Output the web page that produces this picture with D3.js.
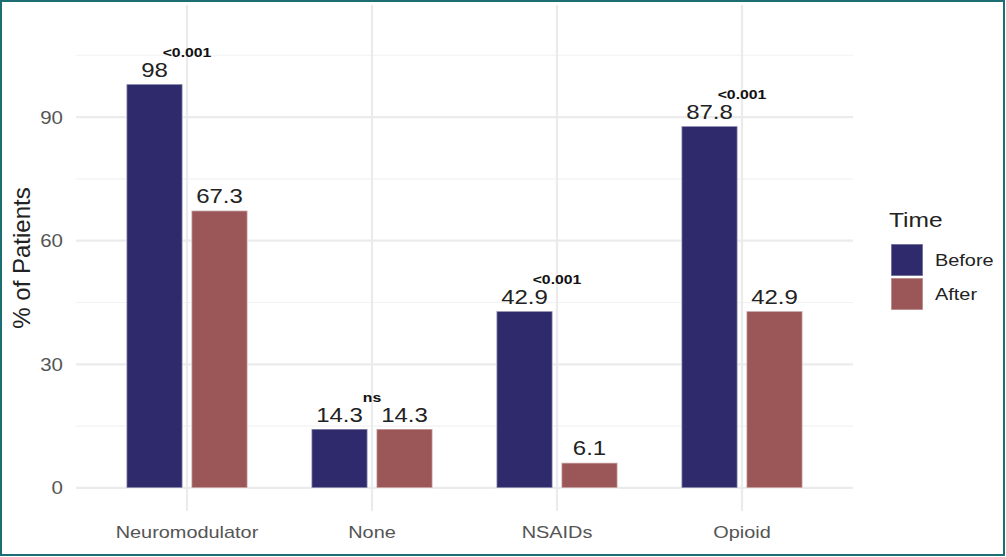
<!DOCTYPE html>
<html><head><meta charset="utf-8">
<script src="https://cdn.jsdelivr.net/npm/d3@7"></script>
<style>body{margin:0;background:#fff}svg{display:block}text{font-family:"Liberation Sans",Arial,sans-serif}</style>
</head><body>
<svg id="c" width="1006" height="557"></svg>
<script>
const categories = ["Neuromodulator", "None", "NSAIDs", "Opioid"];
const times = ["Before", "After"];
const before = [98, 14.3, 42.9, 87.8];
const after = [67.3, 14.3, 6.1, 42.9];
const pLabels = ["<0.001", "ns", "<0.001", "<0.001"];
const yTicks = [0, 30, 60, 90];
const yMinor = [15, 45, 75, 105];
const colors = {Before: "#2e2a6b", After: "#9b5757"};

const S = 1.17; // horizontal text stretch
const svg = d3.select("#c");
const W = 1006, H = 557;
const panel = {l: 76, r: 853, t: 5, b: 511};

const x = d3.scalePoint().domain(categories).range([panel.l, panel.r]).padding(0.6);
const xs = d3.scaleBand().domain(times).range([-60.5, 60.5]).paddingInner(0.138).paddingOuter(0);
const y = d3.scaleLinear().domain([-5.6, 117.2]).range([panel.b, panel.t]);

function stext(g, tx, ty, str, opts) {
  const t = g.append("text").attr("transform", `translate(${tx},${ty}) scale(${opts.sx || S},1)`)
    .attr("text-anchor", opts.anchor || "middle")
    .attr("font-size", opts.size).attr("fill", opts.fill || "#222")
    .text(str);
  if (opts.bold) t.attr("font-weight", "bold");
  return t;
}

const grid = svg.append("g");
grid.selectAll("line.mi").data(yMinor).join("line")
  .attr("x1", panel.l).attr("x2", panel.r).attr("y1", d => y(d)).attr("y2", d => y(d))
  .attr("stroke", "#f2f2f2").attr("stroke-width", 1.2);
grid.selectAll("line.ma").data(yTicks).join("line")
  .attr("x1", panel.l).attr("x2", panel.r).attr("y1", d => y(d)).attr("y2", d => y(d))
  .attr("stroke", "#ebebeb").attr("stroke-width", 2.2);
grid.selectAll("line.v").data(categories).join("line")
  .attr("x1", d => x(d)).attr("x2", d => x(d)).attr("y1", panel.t).attr("y2", panel.b)
  .attr("stroke", "#ebebeb").attr("stroke-width", 2.2);

const rows = categories.map((c, i) => ({c, vals: [{t: "Before", v: before[i]}, {t: "After", v: after[i]}], p: pLabels[i]}));
const bars = svg.append("g");
rows.forEach(r => {
  r.vals.forEach(d => {
    bars.append("rect")
      .attr("x", x(r.c) + xs(d.t)).attr("width", xs.bandwidth())
      .attr("y", y(d.v)).attr("height", y(0) - y(d.v))
      .attr("fill", colors[d.t]).attr("stroke", "#ffffff").attr("stroke-opacity", 0.45).attr("stroke-width", 1.6);
    stext(bars, x(r.c) + xs(d.t) + xs.bandwidth() / 2, y(d.v) - 7.5, String(d.v), {size: 20.5});
  });
  const m = d3.max(r.vals, d => d.v);
  stext(bars, x(r.c), y(m) - 27, r.p, {size: 13.5, bold: true, fill: "#111"});
});

const ax = svg.append("g");
yTicks.forEach(t => stext(ax, 63, y(t) + 6.5, String(t), {size: 17.5, anchor: "end", fill: "#555"}));
categories.forEach(c => stext(ax, x(c), 538, c, {size: 17, fill: "#555"}));
ax.append("text").attr("transform", `translate(30,${(panel.t + panel.b) / 2}) rotate(-90)`)
  .attr("text-anchor", "middle").attr("font-size", 24).attr("fill", "#222").text("% of Patients");

const lg = svg.append("g");
stext(lg, 889, 227, "Time", {size: 21, anchor: "start", fill: "#222"});
times.forEach((t, i) => {
  const ky = 244 + i * 34;
  lg.append("rect").attr("x", 891).attr("y", ky).attr("width", 32).attr("height", 32)
    .attr("fill", colors[t]).attr("stroke", "#fff").attr("stroke-opacity", 0.45).attr("stroke-width", 1.5);
  stext(lg, 935, ky + 16 + 6, t, {size: 17, anchor: "start", fill: "#222"});
});

svg.append("rect").attr("x", 1).attr("y", 1).attr("width", W - 3).attr("height", H - 3)
  .attr("fill", "none").attr("stroke", "#1d6e73").attr("stroke-width", 2);
</script>
</body></html>
